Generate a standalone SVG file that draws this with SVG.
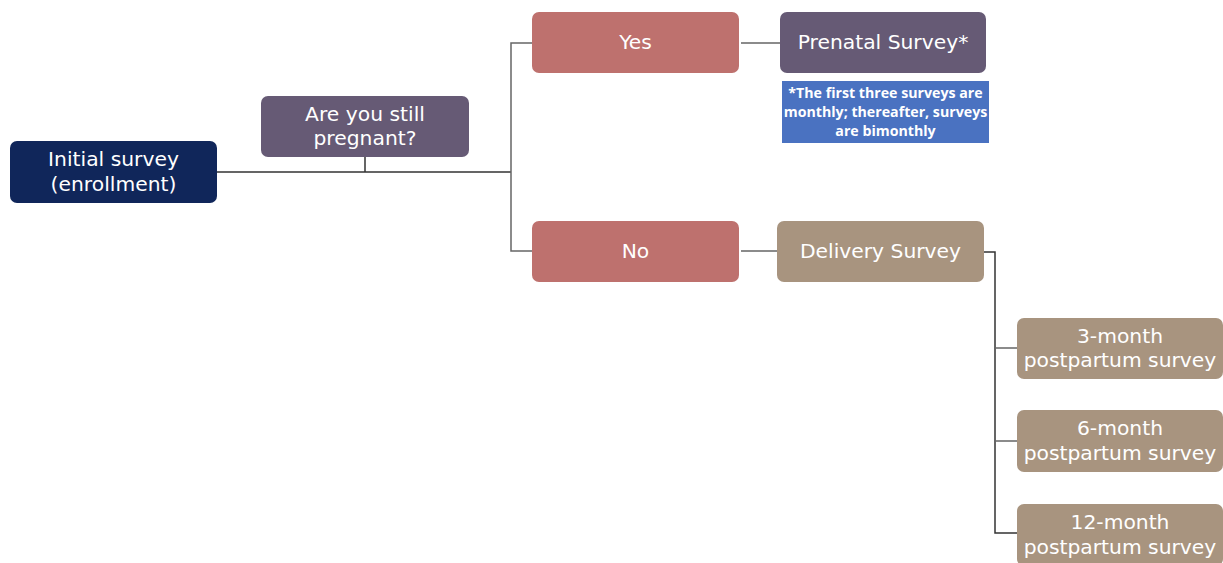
<svg xmlns="http://www.w3.org/2000/svg" width="1223" height="563" viewBox="0 0 1223 563">
<style>
.n{stroke:none}
.t{font-family:"DejaVu Sans","Liberation Sans",sans-serif;font-size:20.3px;fill:#fff;text-anchor:middle}
.s{font-family:"Open Sans","Liberation Sans",sans-serif;font-size:14.2px;font-weight:bold;fill:#fff;text-anchor:middle}
.c{fill:none;stroke-width:1.5}
</style>
<rect width="1223" height="563" fill="#fff"/>
<g id="connectors">
<path class="c" stroke="#333" d="M217 172H511M365 157V172"/>
<path class="c" stroke="#666" d="M532 43H511V251H532"/>
<path class="c" stroke="#666" d="M741 43H780M741 251H777"/>
<path class="c" stroke="#333" d="M984 252H995V533H1017"/>
<path class="c" stroke="#666" d="M995 348H1017M995 441H1017"/>
</g>
<g id="initial"><rect class="n" x="10" y="141" width="207" height="62" rx="7" fill="#10265a"/><text class="t" x="113.5" y="166">Initial survey</text><text class="t" x="113.5" y="191">(enrollment)</text></g>
<g id="pregnant"><rect class="n" x="261" y="96" width="208" height="61" rx="7" fill="#665a75"/><text class="t" x="365" y="121">Are you still</text><text class="t" x="365" y="145">pregnant?</text></g>
<g id="yes"><rect class="n" x="532" y="12" width="207" height="61" rx="7" fill="#be716e"/><text class="t" x="635.5" y="49">Yes</text></g>
<g id="prenatal"><rect class="n" x="780" y="12" width="206" height="61" rx="7" fill="#665a75"/><text class="t" x="883" y="49">Prenatal Survey*</text></g>
<g id="note"><rect class="n" x="782" y="81" width="207" height="62" fill="#4a72c1"/><text class="s" x="885.5" y="98">*The first three surveys are</text><text class="s" x="885.5" y="117">monthly; thereafter, surveys</text><text class="s" x="885.5" y="136">are bimonthly</text></g>
<g id="no"><rect class="n" x="532" y="221" width="207" height="61" rx="7" fill="#be716e"/><text class="t" x="635.5" y="258">No</text></g>
<g id="delivery"><rect class="n" x="777" y="221" width="207" height="61" rx="7" fill="#a8947f"/><text class="t" x="880.5" y="258">Delivery Survey</text></g>
<g id="m3"><rect class="n" x="1017" y="318" width="206" height="61" rx="7" fill="#a8947f"/><text class="t" x="1120" y="343">3-month</text><text class="t" x="1120" y="367">postpartum survey</text></g>
<g id="m6"><rect class="n" x="1017" y="410" width="206" height="62" rx="7" fill="#a8947f"/><text class="t" x="1120" y="435">6-month</text><text class="t" x="1120" y="460">postpartum survey</text></g>
<g id="m12"><rect class="n" x="1017" y="504" width="206" height="62" rx="7" fill="#a8947f"/><text class="t" x="1120" y="529">12-month</text><text class="t" x="1120" y="554">postpartum survey</text></g>
</svg>
